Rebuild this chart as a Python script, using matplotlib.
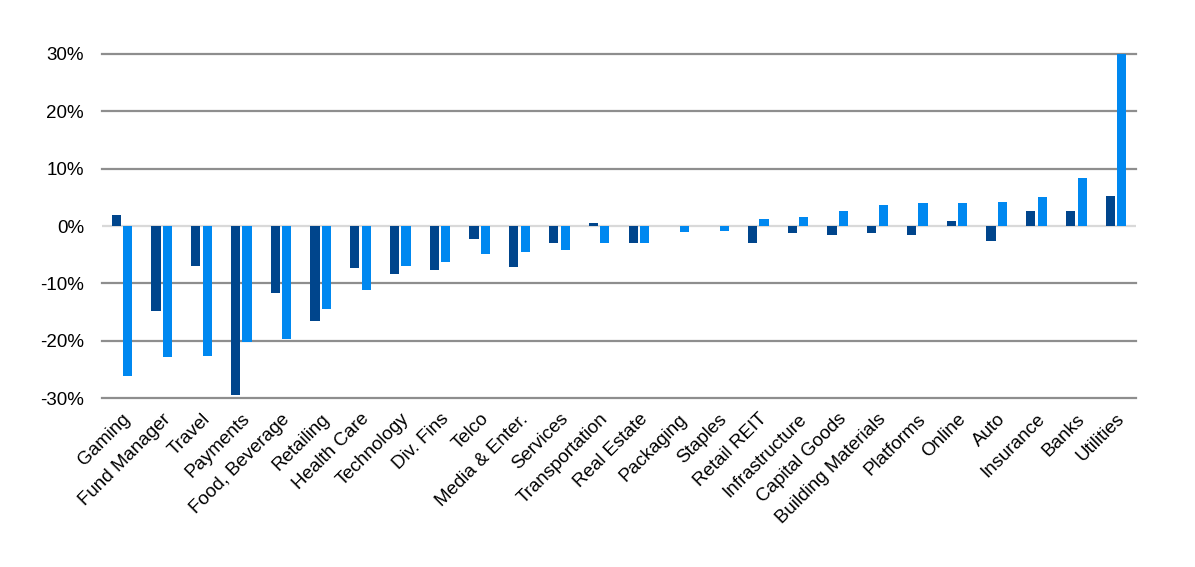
import matplotlib
matplotlib.use("Agg")
from matplotlib import pyplot as plt
import numpy as np

categories = ["Gaming", "Fund Manager", "Travel", "Payments", "Food, Beverage",
              "Retailing", "Health Care", "Technology", "Div. Fins", "Telco",
              "Media & Enter.", "Services", "Transportation", "Real Estate",
              "Packaging", "Staples", "Retail REIT", "Infrastructure",
              "Capital Goods", "Building Materials", "Platforms", "Online",
              "Auto", "Insurance", "Banks", "Utilities"]

# dark series
series_dark = [1.9, -14.9, -6.9, -29.4, -11.7, -16.5, -7.4, -8.3, -7.6, -2.3,
               -7.2, -3.0, 0.6, -2.9, 0.0, 0.05, -3.0, -1.3, -1.6, -1.3,
               -1.6, 0.9, -2.6, 2.7, 2.6, 5.3]
# light series
series_light = [-26.2, -22.9, -22.6, -20.2, -19.7, -14.5, -11.2, -6.9, -6.3, -4.8,
                -4.5, -4.1, -3.0, -3.0, -1.1, -0.9, 1.3, 1.6, 2.6, 3.7,
                4.0, 4.0, 4.2, 5.1, 8.3, 30.0]

yticks = [-30, -20, -10, 0, 10, 20, 30]

plt.rcParams["font.family"] = ["Liberation Sans", "DejaVu Sans"]

fig = plt.figure(figsize=(11.95, 5.67), dpi=100)
ax = fig.add_axes([0.0854, 0.298, 0.8652, 0.6068])

x = np.arange(len(categories))
w = 0.23
off = 0.145
ax.bar(x - off, series_dark, width=w, color="#00458C", zorder=3)
ax.bar(x + off, series_light, width=w, color="#0088F0", zorder=3)

ax.set_xlim(-0.5, len(categories) - 0.5)
ax.set_ylim(-30, 30)
ax.set_yticks(yticks)
ax.set_yticklabels([f"{t}%" for t in yticks], fontsize=13.5)
for t in yticks:
    if t == 0:
        ax.axhline(t, color="#d9d9d9", lw=1.6, zorder=2)
    else:
        ax.axhline(t, color="#8e8e8e", lw=1.6, zorder=2, clip_on=False)

ax.set_xticks(x)
ax.set_xticklabels(categories, rotation=45, ha="right", rotation_mode="anchor",
                   fontsize=13.5)
ax.tick_params(axis="both", length=0)
ax.tick_params(axis="y", pad=13)
ax.tick_params(axis="x", pad=9)
for s in ax.spines.values():
    s.set_visible(False)

fig.savefig("out.png", dpi=100)
